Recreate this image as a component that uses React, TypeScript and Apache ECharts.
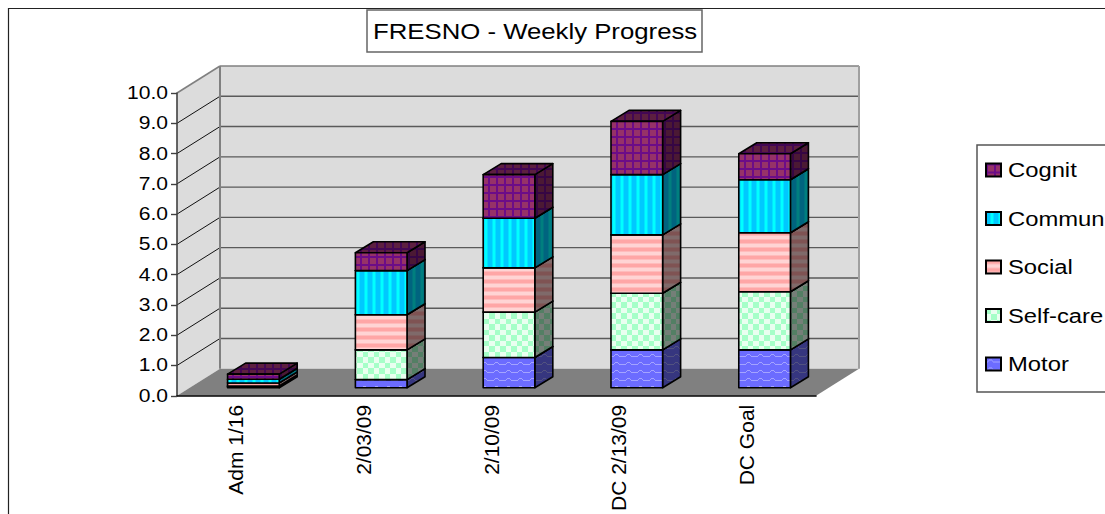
import React, { useEffect, useRef } from "react";
import * as echarts from "echarts";

const categories = ["Adm 1/16", "2/03/09", "2/10/09", "DC 2/13/09", "DC Goal"];
const motor = [0.03, 0.27, 1.0, 1.25, 1.25];
const selfCare = [0.03, 0.98, 1.5, 1.87, 1.92];
const social = [0.1, 1.16, 1.46, 1.93, 1.95];
const commun = [0.12, 1.46, 1.64, 1.99, 1.75];
const cognit = [0.17, 0.59, 1.44, 1.76, 0.86];
const seriesNames = ["Motor", "Self-care", "Social", "Commun", "Cognit"];
const legendOrder = ["Cognit", "Commun", "Social", "Self-care", "Motor"];
const stacks = [motor, selfCare, social, commun, cognit];
const tickValues = [0, 1, 2, 3, 4, 5, 6, 7, 8, 9, 10];

const FONT = "Liberation Sans";
const DEPTH_X = 43;
const DEPTH_Y = 27;
const BAR_OFF_X = 12.5;
const BAR_OFF_Y = 8;
const BAR_DX = 18;
const BAR_DY = 11;

// the reference's text is stretched sideways; rotated category labels are not
const TEXT_STRETCH: [string, number][] = [
  ["18px", 1.17],
  ["19.5px", 1.22],
  ["22px", 1.17],
];

type Draw = (c: CanvasRenderingContext2D) => void;

function makeCanvas(w: number, h: number, draw: Draw, shade: number) {
  const cv = document.createElement("canvas");
  cv.width = w;
  cv.height = h;
  const c = cv.getContext("2d") as CanvasRenderingContext2D;
  draw(c);
  if (shade > 0) {
    c.fillStyle = `rgba(0,0,0,${shade})`;
    c.fillRect(0, 0, w, h);
  }
  return { image: cv, repeat: "repeat", imageWidth: w, imageHeight: h };
}

const drawers: { w: number; h: number; draw: Draw }[] = [
  {
    w: 12,
    h: 8,
    draw: (c) => {
      c.fillStyle = "#6c6cff";
      c.fillRect(0, 0, 12, 8);
      c.fillStyle = "#a4a4ff";
      [[0, 4], [1, 4], [2, 3], [3, 2], [4, 2], [5, 2], [6, 3], [7, 4], [8, 4], [9, 4], [10, 4], [11, 4]].forEach(([x, y]) =>
        c.fillRect(x, y, 1, 1)
      );
    },
  },
  {
    w: 11,
    h: 11,
    draw: (c) => {
      c.fillStyle = "#eafff0";
      c.fillRect(0, 0, 11, 11);
      c.fillStyle = "#a6ffc8";
      c.fillRect(0, 0, 5, 5);
      c.fillRect(5, 5, 6, 6);
    },
  },
  {
    w: 8,
    h: 8,
    draw: (c) => {
      ["#ffa6a6", "#ffa6a6", "#ffa6a6", "#ffbcbc", "#ffd4d4", "#ffd4d4", "#ffd4d4", "#ffbcbc"].forEach((col, i) => {
        c.fillStyle = col;
        c.fillRect(0, i, 8, 1);
      });
    },
  },
  {
    w: 8,
    h: 8,
    draw: (c) => {
      ["#00c8ff", "#00c8ff", "#00c8ff", "#00c8ff", "#00e4ff", "#00ffff", "#00ffff", "#00e4ff"].forEach((col, i) => {
        c.fillStyle = col;
        c.fillRect(i, 0, 1, 8);
      });
    },
  },
  {
    w: 8,
    h: 8,
    draw: (c) => {
      c.fillStyle = "#963268";
      c.fillRect(0, 0, 8, 8);
      c.fillStyle = "#6c0c88";
      c.fillRect(0, 0, 8, 2);
      c.fillRect(0, 0, 2, 8);
    },
  },
];

export default function App() {
  const ref = useRef<HTMLDivElement>(null);
  useEffect(() => {
    const host = ref.current as HTMLDivElement;
    const chart = echarts.init(host, undefined, { renderer: "svg" });
    const front = drawers.map((d) => makeCanvas(d.w, d.h, d.draw, 0));
    const side = drawers.map((d) => makeCanvas(d.w, d.h, d.draw, 0.5));
    const top = drawers.map((d) => makeCanvas(d.w, d.h, d.draw, 0.38));

    const wallSeries = {
      type: "custom",
      coordinateSystem: "cartesian2d",
      clip: false,
      silent: true,
      data: [[0, 0]],
      renderItem: (params: any) => {
        const g = params.coordSys;
        const L = g.x;
        const R = g.x + g.width;
        const T = g.y;
        const B = g.y + g.height;
        return {
          type: "group",
          children: [
            {
              type: "polygon",
              shape: { points: [[L, T], [L + DEPTH_X, T - DEPTH_Y], [L + DEPTH_X, B - DEPTH_Y], [L, B]] },
              style: { fill: "#dcdcdc", stroke: "none" },
            },
            {
              type: "rect",
              shape: { x: L + DEPTH_X, y: T - DEPTH_Y, width: g.width, height: g.height },
              style: { fill: "#dcdcdc", stroke: "none" },
            },
            {
              type: "polygon",
              shape: { points: [[L, B], [R, B], [R + DEPTH_X, B - DEPTH_Y], [L + DEPTH_X, B - DEPTH_Y]] },
              style: { fill: "#808080", stroke: "none" },
            },
          ],
        };
      },
    };

    const gridSeries = {
      type: "custom",
      coordinateSystem: "cartesian2d",
      clip: false,
      silent: true,
      data: tickValues.map((v) => [0, v]),
      renderItem: (params: any, api: any) => {
        const g = params.coordSys;
        const L = g.x;
        const R = g.x + g.width;
        const v = api.value(1);
        const y = api.coord([0, v])[1];
        if (v === 0) return { type: "group", children: [] };
        const wallEdge = v === 10;
        return {
          type: "group",
          children: [
            {
              type: "line",
              shape: { x1: L, y1: y, x2: L + DEPTH_X, y2: y - DEPTH_Y },
              style: { stroke: wallEdge ? "#808080" : "#111111", lineWidth: wallEdge ? 1.6 : 1 },
            },
            {
              type: "line",
              shape: { x1: L + DEPTH_X, y1: y - DEPTH_Y, x2: R + DEPTH_X, y2: y - DEPTH_Y },
              style: { stroke: wallEdge ? "#808080" : "#5a5a5a", lineWidth: wallEdge ? 1.6 : 1.4 },
            },
          ],
        };
      },
    };

    const edgeSeries = {
      type: "custom",
      coordinateSystem: "cartesian2d",
      clip: false,
      silent: true,
      data: [[0, 0]],
      renderItem: (params: any) => {
        const g = params.coordSys;
        const L = g.x + DEPTH_X;
        const R = g.x + g.width + DEPTH_X;
        const T = g.y - DEPTH_Y;
        const B = g.y + g.height - DEPTH_Y;
        return {
          type: "group",
          children: [
            { type: "line", shape: { x1: L, y1: T, x2: L, y2: B }, style: { stroke: "#808080", lineWidth: 2 } },
            { type: "line", shape: { x1: R, y1: T, x2: R, y2: B }, style: { stroke: "#a0a0a0", lineWidth: 2 } },
          ],
        };
      },
    };

    const barSeries = stacks.map((vals, si) => {
      const data = vals.map((v, i) => {
        let base = 0;
        for (let k = 0; k < si; k++) base += stacks[k][i];
        return [i, base, base + v];
      });
      return {
        name: seriesNames[si],
        type: "custom",
        coordinateSystem: "cartesian2d",
        clip: false,
        encode: { x: 0, y: [1, 2] },
        itemStyle: { color: front[si], borderColor: "#000000", borderWidth: 1.5 },
        data,
        renderItem: (_p: any, api: any) => {
          const c0 = api.coord([api.value(0), api.value(1)]);
          const c1 = api.coord([api.value(0), api.value(2)]);
          const w = api.size([1, 0])[0] * 0.404;
          const x0 = c0[0] + BAR_OFF_X - w / 2;
          const x1 = x0 + w;
          const yb = c0[1] - BAR_OFF_Y;
          const yt = c1[1] - BAR_OFF_Y;
          const line = { stroke: "#000000", lineWidth: 1.6, lineJoin: "round" };
          return {
            type: "group",
            children: [
              {
                type: "polygon",
                shape: { points: [[x1, yb], [x1 + BAR_DX, yb - BAR_DY], [x1 + BAR_DX, yt - BAR_DY], [x1, yt]] },
                style: { fill: side[si], ...line },
              },
              {
                type: "polygon",
                shape: { points: [[x0, yt], [x1, yt], [x1 + BAR_DX, yt - BAR_DY], [x0 + BAR_DX, yt - BAR_DY]] },
                style: { fill: top[si], ...line },
              },
              {
                type: "rect",
                shape: { x: x0, y: yt, width: w, height: yb - yt },
                style: { fill: front[si], ...line },
              },
            ],
          };
        },
      };
    });

    chart.setOption({
      animation: false,
      backgroundColor: "#ffffff",
      textStyle: { fontFamily: FONT },
      title: {
        text: "FRESNO - Weekly Progress",
        left: 367,
        top: 10,
        padding: [10, 52, 10, 6],
        backgroundColor: "#ffffff",
        borderColor: "#666666",
        borderWidth: 1.5,
        textStyle: { fontFamily: FONT, fontSize: 22, fontWeight: "normal", color: "#000000" },
      },
      legend: {
        data: legendOrder,
        orient: "vertical",
        left: 977,
        top: 145,
        padding: [15, 60, 18, 8],
        itemGap: 28.5,
        itemWidth: 15,
        itemHeight: 13,
        icon: "rect",
        selectedMode: false,
        backgroundColor: "#ffffff",
        borderColor: "#555555",
        borderWidth: 1.5,
        textStyle: { fontFamily: FONT, fontSize: 19.5, color: "#000000", padding: [0, 0, 0, 2] },
      },
      grid: { left: 177, top: 93, width: 639, height: 303 },
      xAxis: {
        type: "category",
        data: categories,
        z: 5,
        axisLine: { lineStyle: { color: "#000000", width: 1.6 } },
        axisTick: { length: 5, lineStyle: { color: "#444444", width: 1.4 } },
        axisLabel: {
          rotate: 90,
          margin: 9,
          verticalAlign: "bottom",
          lineHeight: 11,
          fontFamily: FONT,
          fontSize: 21,
          color: "#000000",
          interval: 0,
        },
      },
      yAxis: {
        type: "value",
        min: 0,
        max: 10,
        interval: 1,
        z: 5,
        splitLine: { show: false },
        axisLine: { show: true, lineStyle: { color: "#404040", width: 1.6 } },
        axisTick: { show: true, length: 6, lineStyle: { color: "#404040", width: 1.4 } },
        axisLabel: {
          margin: 9,
          fontFamily: FONT,
          fontSize: 18,
          color: "#000000",
          formatter: (v: number) => v.toFixed(1),
        },
      },
      graphic: [
        {
          type: "rect",
          z: -1,
          silent: true,
          shape: { x: 8.5, y: 8.5, width: 1400, height: 900 },
          style: { fill: "none", stroke: "#222222", lineWidth: 1.2 },
        },
      ],
      series: [wallSeries, gridSeries, edgeSeries, ...barSeries],
    });

    host.querySelectorAll("svg text").forEach((node) => {
      const el = node as SVGTextElement;
      const css = el.getAttribute("style") || "";
      const hit = TEXT_STRETCH.find(([size]) => css.includes(size));
      if (hit) {
        el.setAttribute("lengthAdjust", "spacingAndGlyphs");
        el.setAttribute("textLength", String(el.getComputedTextLength() * hit[1]));
      }
    });

    return () => chart.dispose();
  }, []);

  return (
    <div style={{ position: "absolute", left: 0, top: 0, width: 1105, height: 514, overflow: "hidden" }}>
      <style>{`html, body { margin: 0; }`}</style>
      <div ref={ref} style={{ width: 1105, height: 514 }} />
    </div>
  );
}
